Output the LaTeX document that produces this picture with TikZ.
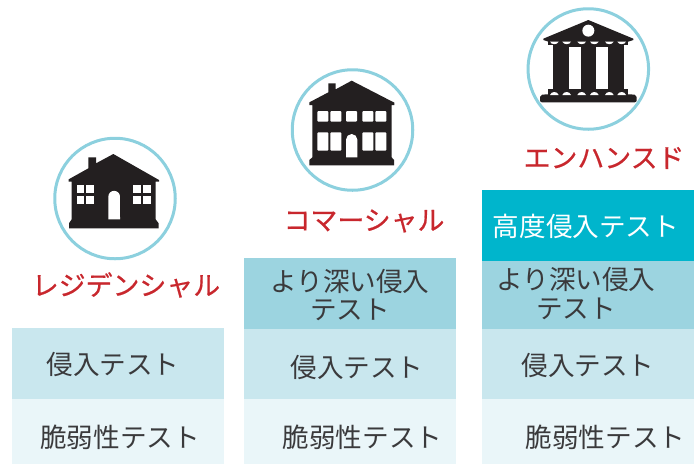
\documentclass[tikz,border=0pt]{standalone}
\usepackage{fontspec}
\setmainfont{Noto Sans CJK JP}
\definecolor{ring}{HTML}{8CD0DE}
\definecolor{ink}{HTML}{231F20}
\definecolor{txt}{HTML}{3A3A3C}
\definecolor{redt}{HTML}{C8272D}
\definecolor{c1}{HTML}{EAF6F9}
\definecolor{c2}{HTML}{C9E7EE}
\definecolor{c3}{HTML}{9CD4E0}
\definecolor{c4}{HTML}{00B5CC}
\tikzset{
 x=1pt,y=-1pt,
 bar/.style={fill=#1,draw=none},
 lab/.style={text=txt,font=\fontsize{26.6}{30}\selectfont,inner sep=0pt,align=center},
 whitelab/.style={lab,text=white},
 title/.style={text=redt,font=\fontsize{26.9}{30}\selectfont\addfontfeature{FakeBold=0.6},inner sep=0pt},
 ringc/.style={draw=ring,line width=3pt,fill=white,circle,minimum size=120.5pt,inner sep=0pt},
 zoomed/.style={shift={(#1)},x=0.33333pt,y=-0.33333pt},
 sil/.style={fill=ink,draw=none},
 hole/.style={fill=white,draw=none},
}
\begin{document}
\begin{tikzpicture}
\useasboundingbox (0,0) rectangle (698,464);
% bars column 1
\fill[bar=c2] (12,328) rectangle (224,399);
\fill[bar=c1] (12,399) rectangle (224,464);
% bars column 2
\fill[bar=c3] (244,258) rectangle (456,329);
\fill[bar=c2] (244,329) rectangle (456,399);
\fill[bar=c1] (244,399) rectangle (456,464);
% bars column 3
\fill[bar=c4] (482,190) rectangle (694,261);
\fill[bar=c3] (482,261) rectangle (694,329);
\fill[bar=c2] (482,329) rectangle (694,399);
\fill[bar=c1] (482,399) rectangle (694,464);
% texts
\node[lab] (a1) at (113,364) {侵入テスト};
\node[lab] (a2) at (120,437) {脆弱性テスト};
\node[lab] (b1) at (350,281) {より深い侵入};
\node[lab] (b2) at (350,310) {テスト};
\node[lab] (b3) at (357,367) {侵入テスト};
\node[lab] (b4) at (362.5,437) {脆弱性テスト};
\node[whitelab] (c5) at (586,226) {高度侵入テスト};
\node[lab] (c1n) at (576,279) {より深い侵入};
\node[lab] (c2n) at (576,309) {テスト};
\node[lab] (c3n) at (588,365) {侵入テスト};
\node[lab] (c4n) at (605.5,437) {脆弱性テスト};
\node[title] (t1) at (126,285) {レジデンシャル};
\node[title] (t2) at (364,221) {コマーシャル};
\node[title] (t3) at (604,158) {エンハンスド};
% residential icon
\node[ringc] (r1) at (115,198.5) {};
\begin{scope}[zoomed={40,130}]
\fill[sil] (145,82) -- (168,82) -- (168,100) -- (220,72) -- (357,150) -- (357,155) -- (347,155) -- (347,268) -- (356,280) -- (356,295) -- (87,295) -- (87,280) -- (95,268) -- (95,155) -- (86,155) -- (86,148) -- (145,115) -- cycle;
\foreach \wx in {110,139,280,309}\foreach \wy in {165,197}
 \fill[hole] (\wx,\wy) rectangle +(23,25);
\fill[hole] (205,268) -- (205,200) arc[start angle=180,end angle=0,radius=5.83pt] -- (240,268) -- cycle;
\end{scope}
% commercial icon
\node[ringc] (r2) at (352.5,130) {};
\begin{scope}[zoomed={280,60}]
\fill[sil] (145,70) -- (167,70) -- (167,88) -- (215,62) -- (343,128) -- (343,135) -- (335,135) -- (335,292) -- (342,300) -- (342,316) -- (88,316) -- (88,300) -- (97,292) -- (97,135) -- (88,135) -- (88,127) -- (145,97) -- cycle;
\foreach \wx in {112,151,198,247,286}
 \fill[hole,rounded corners=1pt] (\wx,153) rectangle +(33,32);
\foreach \wx in {112,151,247,286}
 \fill[hole,rounded corners=1pt] (\wx,217) rectangle +(33,55);
\fill[hole] (198,292) -- (198,239) arc[start angle=180,end angle=0,radius=5.67pt] -- (232,292) -- cycle;
\end{scope}
% institutional icon
\node[ringc] (r3) at (588.3,69) {};
\begin{scope}[zoomed={515,0}]
\fill[sil] (220,60) -- (355,116) -- (355,120) -- (340,125) -- (100,125) -- (85,120) -- (85,116) -- cycle;
\fill[hole] (220,92) circle[radius=6pt];
\fill[sil,rounded corners=2pt] (75,307) -- (75,285) -- (90,283) -- (350,283) -- (365,285) -- (365,307) -- cycle;
\fill[sil] (100,268) rectangle (340,286);
\fill[sil] (100,122) rectangle (340,140);
\foreach \cx/\cw in {115/47,197/46,280/47} \fill[sil] (\cx,125) rectangle +(\cw,160);
\foreach \sx in {118,155,200,238,283,320}{
 \fill[hole] (\sx-13,125) .. controls (\sx-9,135) and (\sx+9,135) .. (\sx+13,125) -- cycle;
 \fill[hole] (\sx-13,285) .. controls (\sx-9,273) and (\sx+9,273) .. (\sx+13,285) -- cycle;
}
\foreach \gx/\gw in {162/35,243/37} \fill[hole] (\gx,140) rectangle +(\gw,128);
\fill[hole] (95,135) rectangle (115,268);
\fill[hole] (327,135) rectangle (345,268);
\end{scope}
\end{tikzpicture}
\end{document}
